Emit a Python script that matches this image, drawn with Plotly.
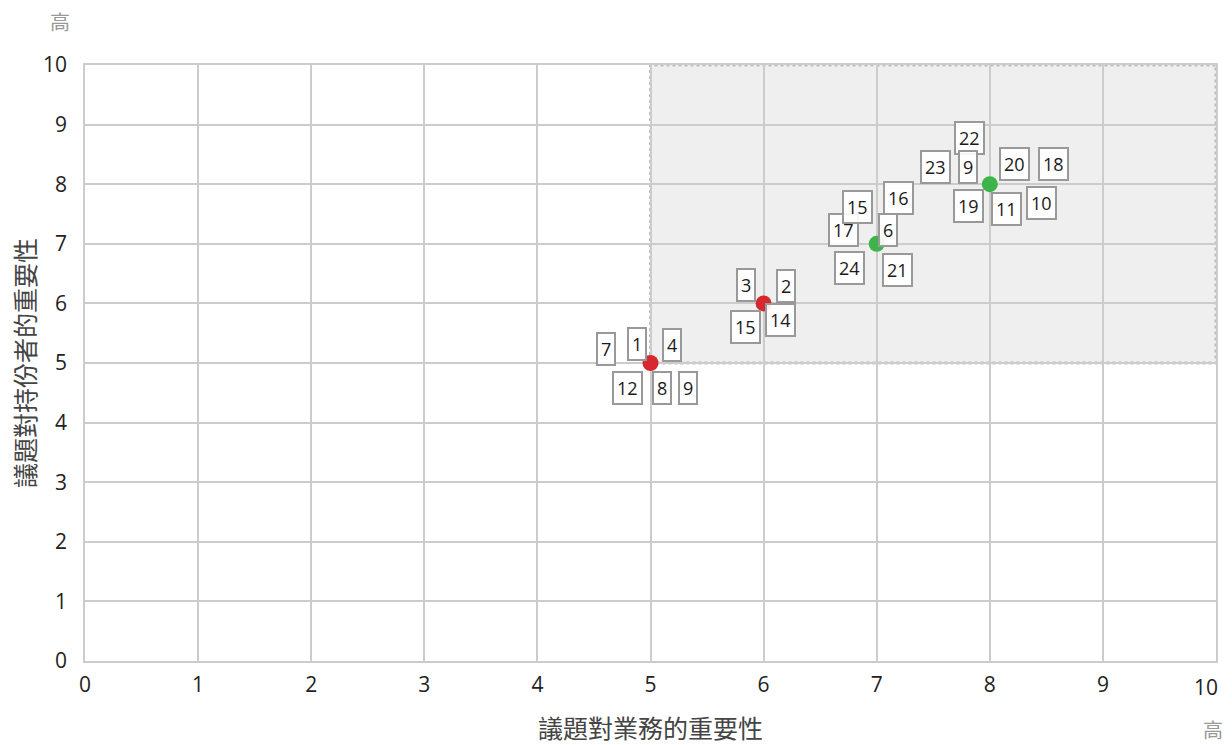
import plotly.graph_objects as go

# Data
red_x = [5, 6]
red_y = [5, 6]
green_x = [7, 8]
green_y = [7, 8]

label_text = ["7", "1", "4", "12", "8", "9",
              "3", "2", "15", "14",
              "17", "15", "16", "6", "24", "21",
              "22", "23", "9", "20", "18", "19", "11", "10"]
label_x = [4.61, 4.88, 5.19, 4.80, 5.10, 5.33,
           5.84, 6.20, 5.84, 6.15,
           6.71, 6.83, 7.19, 7.10, 6.76, 7.18,
           7.82, 7.52, 7.81, 8.22, 8.56, 7.81, 8.15, 8.46]
label_y = [5.24, 5.32, 5.30, 4.58, 4.58, 4.58,
           6.31, 6.29, 5.60, 5.72,
           7.23, 7.62, 7.77, 7.23, 6.59, 6.56,
           8.78, 8.29, 8.29, 8.34, 8.34, 7.63, 7.58, 7.68]

tick_vals = list(range(0, 11))
x_tick_text = [str(v) for v in tick_vals[:-1]] + [""]
x_title = "議題對業務的重要性"
y_title = "議題對持份者的重要性"
high_label = "高"

font_family = "Open Sans, Noto Sans CJK TC, sans-serif"

# page body adds an 8px offset; margins compensate so the plot lands at 85..1216 x 65..661
ML, MR, MT, MB = 77, 24, 57, 92
W, H = 1232, 745
PW, PH = W - ML - MR, H - MT - MB

fig = go.Figure()

fig.add_shape(type="rect", x0=5, y0=5, x1=10, y1=10, xref="x", yref="y",
              fillcolor="#efefef", line=dict(color="#bdbdbd", width=3, dash="dot"),
              layer="below")

fig.add_trace(go.Scatter(x=red_x, y=red_y, mode="markers",
                         marker=dict(color="#d7282f", size=16), hoverinfo="skip"))
fig.add_trace(go.Scatter(x=green_x, y=green_y, mode="markers",
                         marker=dict(color="#3cb44b", size=16), hoverinfo="skip"))

for t, x, y in zip(label_text, label_x, label_y):
    fig.add_annotation(x=x, y=y, xref="x", yref="y", text=t, showarrow=False,
                       font=dict(size=18, color="#1a1a1a", family=font_family),
                       bgcolor="rgba(255,255,255,0.9)", bordercolor="#999999",
                       borderwidth=2, borderpad=3)

fig.update_layout(
    width=W, height=H,
    margin=dict(l=ML, r=MR, t=MT, b=MB, autoexpand=False),
    paper_bgcolor="white", plot_bgcolor="white",
    showlegend=False,
    font=dict(family=font_family, color="#222222"),
    xaxis=dict(range=[0, 10], tickvals=tick_vals, ticktext=x_tick_text,
               showgrid=True, gridcolor="#cccccc",
               gridwidth=1.5, zeroline=False, showline=True, linecolor="#cccccc",
               linewidth=1.5, mirror=True, ticks="", tickfont=dict(size=21, color="#222222"),
               automargin=False, ticklabelstandoff=4,
               title=dict(text=x_title, font=dict(size=25, color="#444444"), standoff=24)),
    yaxis=dict(range=[0, 10], tickvals=tick_vals, showgrid=True, gridcolor="#cccccc",
               gridwidth=1.5, zeroline=False, showline=True, linecolor="#cccccc",
               linewidth=1.5, mirror=True, ticks="", tickfont=dict(size=21, color="#222222"),
               automargin=False, ticklabelstandoff=12,
               title=dict(text=y_title, font=dict(size=25, color="#444444"), standoff=0)),
)

# last x tick label, pulled inside the page edge as in the reference
fig.add_annotation(x=10, y=0, xref="x", yref="y", text=str(tick_vals[-1]), showarrow=False,
                   xanchor="right", yanchor="top", xshift=4, yshift=-10,
                   font=dict(size=21, color="#222222", family=font_family))

# "高" markers positioned relative to the plot area
fig.add_annotation(x=(52 - ML) / PW, y=1 + (MT - 14) / PH, xanchor="center", yanchor="middle",
                   xref="paper", yref="paper", text=high_label, showarrow=False, borderpad=0,
                   font=dict(size=20, color="#999999", family=font_family))
fig.add_annotation(x=(1205 - ML) / PW, y=-(722 - (H - MB)) / PH, xanchor="center", yanchor="middle",
                   xref="paper", yref="paper", text=high_label, showarrow=False, borderpad=0,
                   font=dict(size=20, color="#999999", family=font_family))

fig.write_html("out.html")
